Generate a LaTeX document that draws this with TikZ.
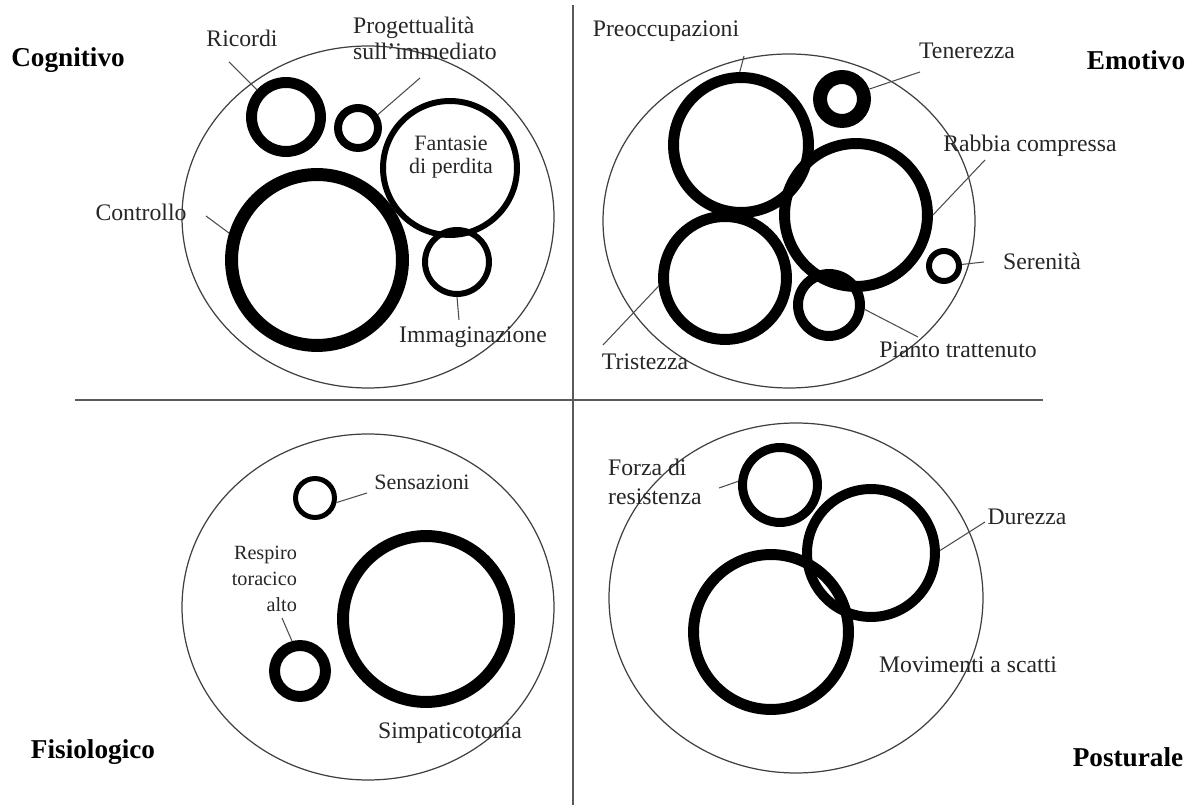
\documentclass[tikz,border=0pt]{standalone}
\usepackage{fontspec}
\setmainfont{Liberation Serif}
\tikzset{
ring/.style 2 args={
	circle,
	draw=black,
	minimum size=#1*0.04cm,
	line width=#2*0.567pt,
	inner sep=0pt
},
outer/.style={
	draw=black!75,
	line width=0.7pt
},
lbl/.style={
	font=\fontsize{13.5}{16}\selectfont,
	inner sep=1pt,
	text=black!85
},
title/.style={
	font=\fontsize{15.5}{18}\selectfont\bfseries,
	inner sep=1pt
},
leader/.style={
	draw=black!70,
	line width=0.6pt
},
axis/.style={
	draw=black!65,
	line width=1.1pt
}
}

\begin{document}
\begin{tikzpicture}[x=0.02cm, y=-0.02cm]
\useasboundingbox (0,0) rectangle (1201,810);

% axes
\coordinate (Top) at (573,5);
\coordinate (Bottom) at (573,805);
\coordinate (Left) at (75,400);
\coordinate (Right) at (1043,400);
\draw[axis] (Top) -- (Bottom);
\draw[axis] (Left) -- (Right);

% outer areas
\draw[outer] (368,217) ellipse [x radius=186, y radius=171];
\draw[outer] (789,221) ellipse [x radius=186, y radius=167];
\draw[outer] (368,607) ellipse [x radius=186, y radius=173];
\draw[outer] (796,598) ellipse [x radius=187, y radius=175];

% Cognitivo
\node (Ricordi) [ring={34.5}{11}] at (286,117) {};
\node (Progetto) [ring={20}{8}] at (358,128) {};
\node (Fantasie) [ring={67}{6}] at (450,168) {};
\node (Controllo) [ring={85.5}{13}] at (317,260) {};
\node (Immagin) [ring={32}{6}] at (457,262) {};

\node (Cognitivo) [title] at (68,60) {Cognitivo};
\node (RicordiTxt) [lbl] at (242,38) {Ricordi};
\node (ProgettoTxt) [lbl, align=left, font=\fontsize{13.5}{14.7}\selectfont] at (425,38) {Progettualità\\sull'immediato};
\node (FantasieTxt) [lbl, align=center, font=\fontsize{12.5}{13}\selectfont] at (451,157) {Fantasie\\di perdita};
\node (ControlloTxt) [lbl] at (141,212) {Controllo};
\node (ImmaginTxt) [lbl] at (473,337) {Immaginazione};

\coordinate (RicordiEnd) at (229,62);
\coordinate (ProgettoEnd) at (420,78);
\coordinate (ControlloEnd) at (206,216);
\coordinate (ImmaginEnd) at (459,320);
\draw[leader] (Ricordi.137) -- (RicordiEnd);
\draw[leader] (Progetto.34) -- (ProgettoEnd);
\draw[leader] (Controllo.163) -- (ControlloEnd);
\draw[leader] (Immagin.270) -- (ImmaginEnd);

% Emotivo
\node (Preocc) [ring={67.5}{11}] at (741,145) {};
\node (Tenerezza) [ring={22}{14}] at (842,99) {};
\node (Rabbia) [ring={71.5}{11}] at (856,215) {};
\node (Tristezza) [ring={61.5}{11}] at (725,278) {};
\node (Pianto) [ring={31}{10}] at (829,305) {};
\node (Serenita) [ring={15}{6}] at (944,266) {};

\node (Emotivo) [title] at (1136,60) {Emotivo};
\node (PreoccTxt) [lbl] at (666,31) {Preoccupazioni};
\node (TenerezzaTxt) [lbl] at (967,51) {Tenerezza};
\node (RabbiaTxt) [lbl] at (1030,146) {Rabbia compressa};
\node (SerenitaTxt) [lbl] at (1042,261) {Serenità};
\node (PiantoTxt) [lbl] at (958,350) {Pianto trattenuto};
\node (TristezzaTxt) [lbl] at (645,362) {Tristezza};

\coordinate (PreoccEnd) at (744,56);
\coordinate (TenerezzaEnd) at (920,72);
\coordinate (RabbiaEnd) at (985,160);
\coordinate (SerenitaEnd) at (984,262);
\coordinate (PiantoEnd) at (918,337);
\coordinate (TristezzaEnd) at (603,345);
\draw[leader] (Preocc.91) -- (PreoccEnd);
\draw[leader] (Tenerezza.20) -- (TenerezzaEnd);
\draw[leader] (Rabbia.0) -- (RabbiaEnd);
\draw[leader] (Serenita.5) -- (SerenitaEnd);
\draw[leader] (Pianto.-7) -- (PiantoEnd);
\draw[leader] (Tristezza.187) -- (TristezzaEnd);

% Fisiologico
\node (Sensazioni) [ring={19.5}{5}] at (315,498) {};
\node (Simpatico) [ring={83}{12}] at (426,619) {};
\node (Respiro) [ring={25.5}{11}] at (300,671) {};

\node (Fisiologico) [title] at (93,752) {Fisiologico};
\node (SensazioniTxt) [lbl, font=\fontsize{12.5}{14}\selectfont] at (422,482) {Sensazioni};
\node (RespiroTxt) [lbl, anchor=east, align=right, font=\fontsize{11.5}{14.7}\selectfont] at (299,579) {Respiro\\toracico\\alto};
\node (SimpaticoTxt) [lbl] at (450,733) {Simpaticotonia};

\coordinate (SensazioniEnd) at (367,493);
\coordinate (RespiroEnd) at (282,618);
\draw[leader] (Sensazioni.-12) -- (SensazioniEnd);
\draw[leader] (Respiro.105) -- (RespiroEnd);

% Posturale
\node (Forza) [ring={37.5}{9}] at (780,485) {};
\node (Durezza) [ring={64}{10}] at (871,553) {};
\node (Movimenti) [ring={77.5}{11}] at (771,632) {};

\node (Posturale) [title] at (1128,757) {Posturale};
\node (ForzaTxt) [lbl, anchor=west, align=left, font=\fontsize{13.5}{16.4}\selectfont] at (606,482) {Forza di\\resistenza};
\node (DurezzaTxt) [lbl] at (1027,517) {Durezza};
\node (MovimentiTxt) [lbl] at (968,665) {Movimenti a scatti};

\coordinate (ForzaEnd) at (719,488);
\coordinate (DurezzaEnd) at (985,522);
\draw[leader] (Forza.175) -- (ForzaEnd);
\draw[leader] (Durezza.2) -- (DurezzaEnd);

\end{tikzpicture}
\end{document}
